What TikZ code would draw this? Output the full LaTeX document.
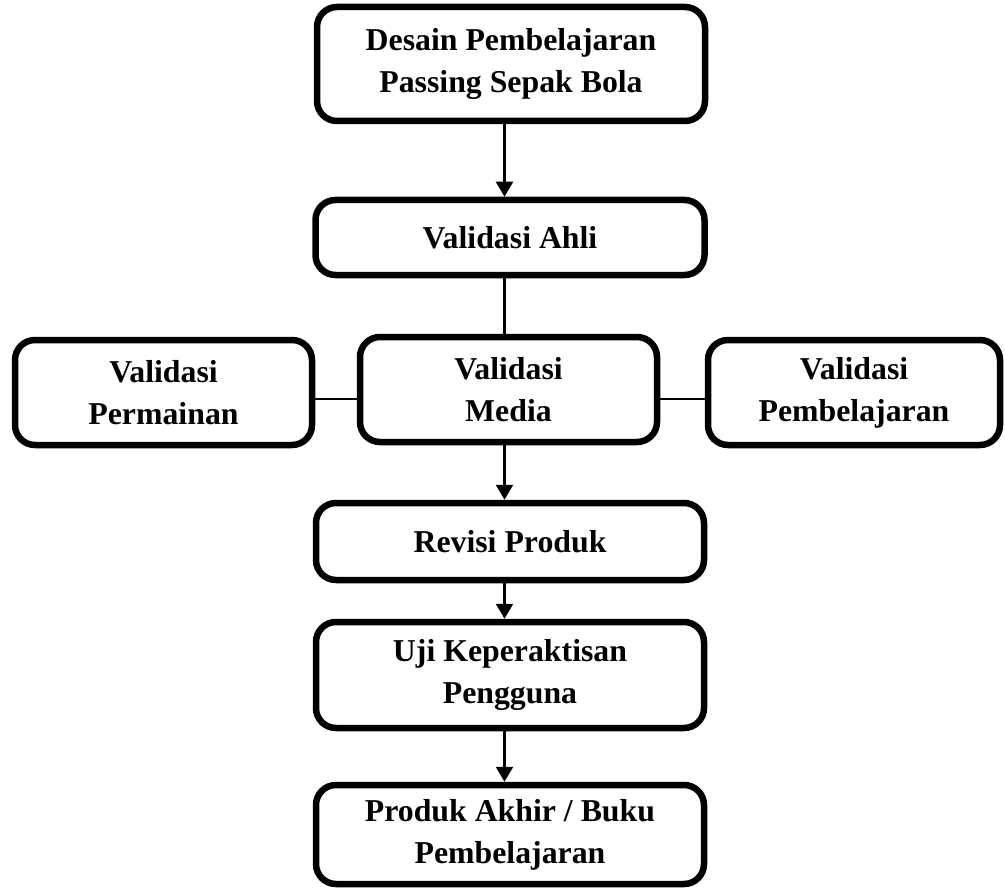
\documentclass[tikz,border=0pt]{standalone}
\usepackage{fontspec}
\setmainfont{Liberation Serif}
\usetikzlibrary{arrows.meta}
\begin{document}
\begin{tikzpicture}[x=1pt,y=-1pt,
  box/.style={draw, line width=6.5pt, rounded corners=20pt, align=center,
    inner sep=0pt, font=\fontsize{31.8}{42}\selectfont\bfseries},
  link/.style={line width=2.4pt},
  arr/.style={link, -{Triangle[width=17pt,length=15pt]}}]
\useasboundingbox (0,0) rectangle (1005,888);
% main column
\node[box, minimum width=388pt, minimum height=114pt] (desain) at (511,64)
  {Desain Pembelajaran\\Passing Sepak Bola};
\node[box, minimum width=389pt, minimum height=75pt] (ahli) at (510,237.5)
  {Validasi Ahli};
\node[box, minimum width=297pt, minimum height=105pt] (media) at (508.5,389.5)
  {Validasi\\Media};
\node[box, minimum width=297pt, minimum height=105pt] (main) at (163.5,392.5)
  {Validasi\\Permainan};
\node[box, minimum width=292pt, minimum height=105pt] (ajar) at (854,392.5)
  {Validasi\\Pembelajaran};
\node[box, minimum width=388pt, minimum height=77pt] (revisi) at (510,541.5)
  {Revisi Produk};
\node[box, minimum width=388pt, minimum height=106pt] (uji) at (510,675)
  {Uji Keperaktisan\\Pengguna};
\node[box, minimum width=388pt, minimum height=99pt] (akhir) at (510,834.5)
  {Produk Akhir / Buku\\Pembelajaran};
% vertical spine of the flow
\coordinate (spine) at (504.5,0);
\coordinate (side) at (0,399);
\draw[arr] (desain.south -| spine) -- (ahli.north -| spine);
\draw[link] (ahli.south -| spine) -- (media.north -| spine);
\draw[link] (main.east |- side) -- (media.west |- side);
\draw[link] (media.east |- side) -- (ajar.west |- side);
\draw[arr] (media.south -| spine) -- (revisi.north -| spine);
\draw[arr] (revisi.south -| spine) -- (uji.north -| spine);
\draw[arr] (uji.south -| spine) -- (akhir.north -| spine);
\end{tikzpicture}
\end{document}
